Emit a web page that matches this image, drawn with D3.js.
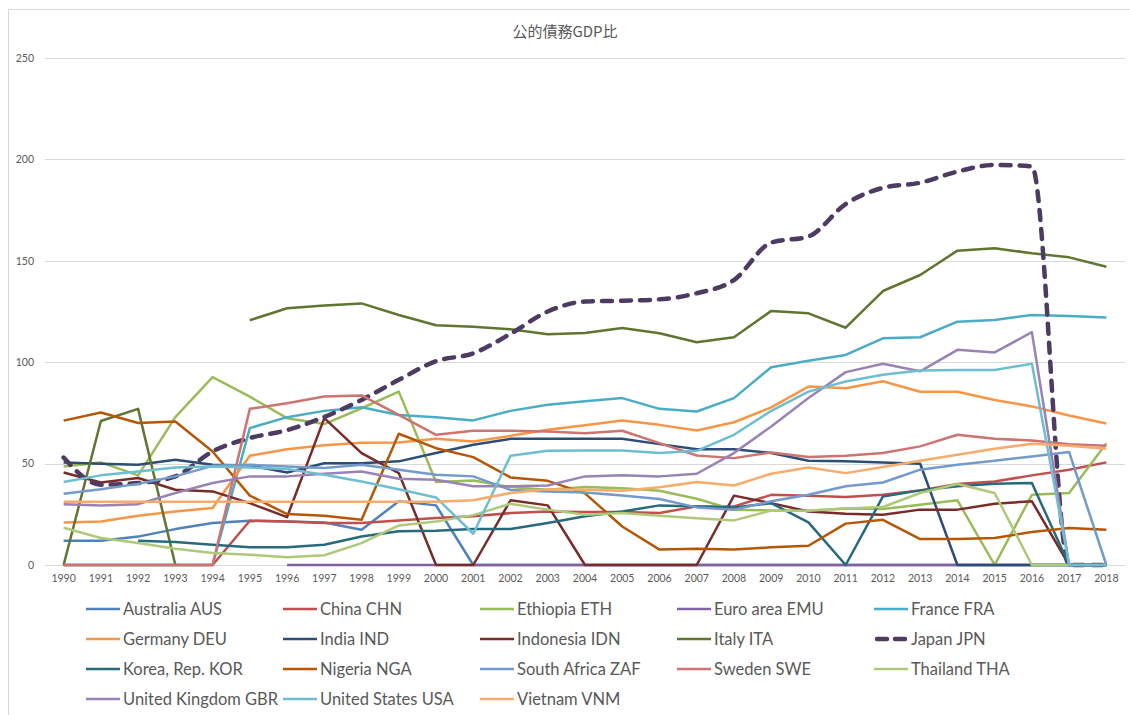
<!DOCTYPE html>
<html>
<head>
<meta charset="utf-8">
<script src="https://cdn.jsdelivr.net/npm/d3@7"></script>
<style>
  body { margin: 0; background: #fff; }
  svg { display: block; }
</style>
</head>
<body>
<svg id="chart"></svg>
<script>
// years on the category axis
const years = d3.range(1990, 2019).map(String);

// series (null = no data point)
const australia = [12, 12, 14, 17.7, 20.7, 21.8, 21.5, 21, 17.4, 31.4, 29.4, 0, 0, 0, 0, 0, 0, 0, 0, 0, 0, 0, 0, 0, 0, 0, 0, 0, 0];
const china = [0, 0, 0, 0, 0, 21.8, 21.5, 20.7, 20.7, 22, 23.2, 24, 25.6, 26.4, 26.1, 26.1, 25.6, 28.9, 28.9, 34.6, 34.2, 33.5, 34.6, 36.8, 39.9, 41.2, 44.2, 47, 50.6];
const ethiopia = [48.6, 50.6, 44.2, 72.9, 92.6, 83, 72.4, 69.5, 77.3, 85.5, 40.9, 41.7, 38.4, 37.1, 38.5, 37.9, 36.6, 32.7, 27.3, 26.9, 26.8, 27.8, 27.6, 29.7, 31.9, 0, 34.6, 35.5, 60];
const euroArea = [null, null, null, null, null, null, 0, 0, 0, 0, 0, 0, 0, 0, 0, 0, 0, 0, 0, 0, 0, 0, 0, 0, 0, 0, 0, 0, 0];
const france = [0, 0, 0, 0, 0, 67.5, 72.9, 76, 77.8, 74, 72.9, 71.3, 76, 79, 80.7, 82.3, 77, 75.7, 82.3, 97.5, 100.7, 103.6, 111.8, 112.3, 120, 120.8, 123.3, 122.8, 122];
const germany = [21, 21.5, 24.3, 26.4, 28.1, 53.9, 57.1, 59.1, 60.3, 60.4, 62.2, 60.9, 63.7, 66.7, 68.9, 71.3, 69.1, 66.3, 70.4, 77.7, 88, 87.2, 90.6, 85.4, 85.4, 81.4, 78.2, 73.7, 69.8];
const india = [50.5, 49.9, 49.4, 51.9, 49.4, 49.1, 45.6, 50.2, 50.2, 51.1, 55.2, 59.3, 62.2, 62.2, 62.2, 62.2, 59.6, 57.1, 57.1, 55.2, 51.4, 51.2, 50.5, 49.9, 0, 0, 0, 0, 0];
const indonesia = [45.6, 40.7, 42.9, 37.1, 36.3, 30.5, 23.6, 72.4, 55.2, 45.3, 0, 0, 31.9, 29.4, 0, 0, 0, 0, 34.2, 30.5, 26.4, 25.3, 24.8, 27.3, 27.3, 30.2, 31.4, 0, 0];
const italy = [0, 71, 77, 0, null, 120.7, 126.6, 127.9, 129, 123.3, 118.2, 117.5, 116.2, 113.8, 114.4, 116.9, 114.3, 109.8, 112.3, 125.3, 124.1, 117, 135.1, 143, 155, 156.2, 153.7, 151.7, 147.1];
const japan = [53, 39.6, 40.4, 43.7, 56, 62.6, 66.5, 73, 81.4, 91.3, 100.5, 104.4, 114, 125, 129.9, 130.3, 131, 134, 140.5, 159, 162, 178, 186, 188.5, 194, 197.3, 196.5, 0, 0];
const korea = [null, null, 12, 11.3, 10, 8.7, 8.7, 10, 14.1, 16.6, 16.9, 17.7, 17.7, 20.7, 24, 26.4, 29.4, 28.9, 28.4, 30.5, 21, 0, 33.8, 36.8, 38.8, 40.1, 40.4, 0, 0];
const nigeria = [71.2, 75.2, 70, 70.8, 56, 34.2, 25.1, 24.3, 22.3, 64.7, 57.6, 53.2, 43.2, 41.5, 35.3, 19, 7.6, 8, 7.6, 8.7, 9.5, 20.4, 22.3, 12.8, 12.8, 13.3, 16.3, 18.2, 17.4];
const southAfrica = [35.1, 37.3, 40, 43.7, 48.9, 49.4, 48.6, 47.8, 49.4, 47, 44.5, 43.7, 37, 36.3, 35.8, 34.3, 32.5, 28.4, 27.3, 31.4, 34.6, 38.8, 40.7, 47, 49.4, 51.4, 53.5, 55.7, 0];
const sweden = [0, 0, 0, 0, 0, 77, 79.8, 83.1, 83.6, 74, 64.2, 66.2, 66.2, 65.8, 65, 66.2, 60.1, 54, 52.7, 55.5, 53.2, 53.9, 55.2, 58.5, 64.2, 62.2, 61.4, 59.6, 58.8];
const thailand = [18.4, 13.3, 10.8, 8, 5.9, 5.1, 3.8, 4.8, 10.8, 19.5, 21.5, 24.6, 30.2, 27.3, 24.8, 25.6, 24.3, 23, 22, 26.8, 26.8, 27.8, 28.6, 35.5, 39.9, 35.5, 0, 0, 0];
const unitedKingdom = [30, 29.4, 30, 35.5, 40.4, 43.7, 43.7, 45, 46.1, 42.5, 42, 38.8, 38.8, 39.2, 43.7, 44.2, 43.7, 45, 55.2, 68.3, 82.3, 95.1, 99.2, 95.5, 106.1, 104.8, 114.8, 0, 0];
const unitedStates = [40.9, 44.2, 46.1, 48.1, 48.6, 48.1, 47.3, 44.5, 41.2, 37.4, 33.3, 15.4, 53.9, 56.3, 56.5, 56.5, 55.2, 56.3, 64.2, 76, 85.5, 90.5, 93.8, 95.9, 96.2, 96.2, 99.2, 0, 0];
const vietnam = [31.2, 31.2, 31.2, 31.2, 31.2, 31.2, 31.2, 31.2, 31.2, 31.2, 31.2, 31.9, 35.5, 37.4, 37.1, 36.6, 38.3, 40.9, 39.2, 45, 48.1, 45.3, 48.3, 51.4, 54.4, 57.3, 59.8, 58.8, 57.3];

const seriesNames = ["Australia AUS", "China CHN", "Ethiopia ETH", "Euro area EMU", "France FRA",
  "Germany DEU", "India IND", "Indonesia IDN", "Italy ITA", "Japan JPN",
  "Korea, Rep. KOR", "Nigeria NGA", "South Africa ZAF", "Sweden SWE", "Thailand THA",
  "United Kingdom GBR", "United States USA", "Vietnam VNM"];
const seriesValues = [australia, china, ethiopia, euroArea, france, germany, india, indonesia, italy, japan,
  korea, nigeria, southAfrica, sweden, thailand, unitedKingdom, unitedStates, vietnam];
const seriesColors = ["#4F81BD", "#C0504D", "#9BBB59", "#8064A2", "#4BACC6", "#F79646",
  "#2C4D75", "#772C2A", "#5F7530", "#4D3B62", "#276A7C", "#B65708",
  "#729ACA", "#CD7371", "#AFC97A", "#9983B5", "#6FBDD1", "#F9AB6B"];
const yTicks = [0, 50, 100, 150, 200, 250];
const chartTitle = "公的債務GDP比";

const width = 1130, height = 715;
const plot = { left: 45, right: 1125, top: 58, bottom: 565 };
const textColor = "#595959";
const font = "Lato, 'Noto Sans', sans-serif";

const svg = d3.select("#chart").attr("width", width).attr("height", height);

// chart area border
svg.append("rect")
    .attr("x", 8.5).attr("y", 9.5)
    .attr("width", 1140).attr("height", 720)
    .attr("fill", "none").attr("stroke", "#d9d9d9");

svg.append("text")
    .attr("x", 565).attr("y", 37)
    .attr("text-anchor", "middle")
    .attr("font-family", "'Noto Sans CJK JP', sans-serif")
    .attr("font-size", 15)
    .attr("fill", textColor)
    .text(chartTitle);

const x = d3.scaleBand().domain(years).range([plot.left, plot.right]);
const y = d3.scaleLinear().domain([0, 250]).range([plot.bottom, plot.top]);
const cx = d => x(d) + x.bandwidth() / 2;

// gridlines
svg.append("g")
    .selectAll("line")
    .data(yTicks)
    .enter().append("line")
    .attr("x1", plot.left).attr("x2", plot.right)
    .attr("y1", d => Math.round(y(d)) + 0.5).attr("y2", d => Math.round(y(d)) + 0.5)
    .attr("stroke", "#d9d9d9").attr("stroke-width", 1);

// y axis labels
const yAxis = svg.append("g")
    .attr("transform", `translate(${plot.left - 11},0)`)
    .call(d3.axisLeft(y).tickValues(yTicks).tickSize(0).tickPadding(0));
yAxis.select(".domain").remove();
yAxis.selectAll("text")
    .attr("font-family", font).attr("font-size", 10.5).attr("fill", textColor);

// x axis labels
const xAxis = svg.append("g")
    .attr("transform", `translate(0,${plot.bottom + 10})`)
    .call(d3.axisBottom(x).tickSize(0).tickPadding(0));
xAxis.select(".domain").remove();
xAxis.selectAll("text")
    .attr("font-family", font).attr("font-size", 10.5).attr("fill", textColor);

// lines
const lineGroup = svg.append("g").attr("fill", "none");
seriesValues.forEach((vals, i) => {
    const isJapan = seriesNames[i] === "Japan JPN";
    const line = d3.line()
        .defined(d => d[1] !== null)
        .x(d => cx(d[0]))
        .y(d => y(d[1]))
        .curve(isJapan ? d3.curveMonotoneX : d3.curveLinear);
    const path = lineGroup.append("path")
        .datum(years.map((yr, j) => [yr, vals[j]]))
        .attr("d", line)
        .attr("stroke", seriesColors[i])
        .attr("stroke-linejoin", "round")
        .attr("stroke-width", isJapan ? 4.5 : 2.5);
    if (isJapan) {
        path.attr("stroke-dasharray", "10,9").attr("stroke-linecap", "round");
    }
});

// legend
const legend = svg.append("g");
seriesNames.forEach((name, i) => {
    const col = i % 5, row = Math.floor(i / 5);
    const lx = 86 + col * 197, ly = 609 + row * 30;
    const isJapan = name === "Japan JPN";
    const g = legend.append("g").attr("transform", `translate(${lx},${ly})`);
    const mark = g.append("line")
        .attr("x1", isJapan ? 3 : 0).attr("x2", isJapan ? 31 : 34)
        .attr("y1", 0).attr("y2", 0)
        .attr("stroke", seriesColors[i])
        .attr("stroke-width", isJapan ? 4.5 : 2.5);
    if (isJapan) mark.attr("stroke-dasharray", "10,8").attr("stroke-linecap", "round");
    g.append("text")
        .attr("x", 37).attr("y", 0).attr("dy", "0.35em")
        .attr("font-family", font).attr("font-size", 16.5)
        .attr("fill", textColor)
        .text(name);
});
</script>
</body>
</html>
